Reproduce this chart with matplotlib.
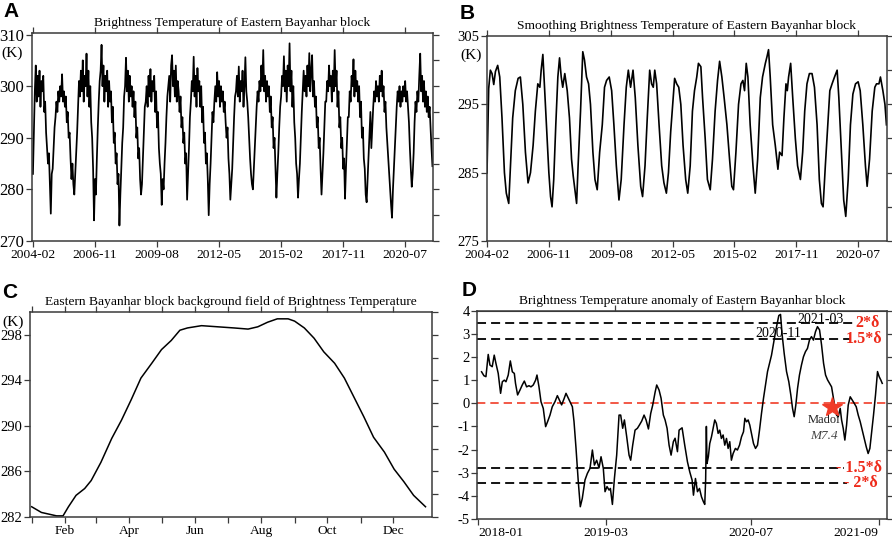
import numpy as np
import matplotlib.pyplot as plt
from matplotlib.ticker import MultipleLocator

plt.rcParams['font.family'] = ['Liberation Serif', 'DejaVu Serif']
plt.rcParams['axes.unicode_minus'] = False

# ---------------- data ----------------
# A: raw brightness temperature, half-month samples from 2004-02 (one row per year)
a_rows = [
    [283, 291, 299, 304, 297, 302, 298, 303, 296, 301, 299, 302, 295, 297, 291, 288, 285, 287, 281, 275.3, 283, 284, 288, 292],
    [294, 297, 295, 299, 297, 300, 298, 302.3, 297, 299, 296, 298, 293, 295, 290, 291, 286, 282, 285, 281, 279, 283, 287, 291],
    [296, 301, 298, 303, 299, 305, 297, 302, 300, 306.3, 298, 303, 296, 300, 293, 290, 284, 274, 282, 279, 286, 292, 297, 301],
    [303, 308, 300, 304, 297, 302, 299, 303, 296, 301, 297, 299, 293, 296, 289, 291, 285, 287, 281, 283, 273, 279, 284, 289],
    [292, 298, 300, 305.5, 299, 303, 297, 302, 298, 300, 296, 299, 294, 297, 290, 292, 286, 288, 282, 279, 281, 286, 291, 296],
    [297, 300, 296, 302, 298, 303.3, 297, 301, 299, 302, 295, 299, 292, 295, 288, 285, 283, 277, 282, 280, 285, 289, 294, 298],
    [300, 302, 297, 304, 306, 300, 303, 298, 304, 297, 301, 299, 295, 298, 292, 294, 289, 291, 285, 287, 278, 283, 288, 294],
    [297, 301, 299, 305.7, 298, 302, 296, 303.5, 299, 301, 296, 300, 293, 296, 289, 291, 285, 287, 282, 275, 281, 285, 290, 295],
    [293, 297, 300, 297, 302.7, 298, 301, 296, 300, 297, 299, 295, 297, 293, 290, 292, 286, 283, 278, 281, 284, 289, 294, 298],
    [299, 302, 298, 303.8, 297, 301, 299, 303, 296, 300, 305.6, 299, 297, 294, 290, 286, 283, 281, 280, 284, 288, 292, 296, 299],
    [297, 301, 299, 304, 300, 307, 299, 302, 297, 301, 298, 300, 295, 298, 292, 294, 288, 290, 284, 278.4, 283, 287, 292, 296],
    [298, 302, 300, 305.8, 299, 303, 297, 304, 300, 308.3, 299, 303, 296, 300, 293, 290, 285, 283, 278.4, 282, 285, 290, 295, 299],
    [303, 299, 302, 298, 304, 300, 306.4, 299, 303, 306, 298, 301, 296, 298, 292, 294, 288, 290, 284, 279, 283, 287, 292, 297],
    [297, 301, 299, 304, 300, 302, 297, 303, 299, 307, 300, 303, 296, 299, 292, 294, 288, 290, 284, 286, 278.2, 284, 289, 294],
    [294, 299, 297, 302, 300, 305.2, 298, 303, 299, 301, 297, 300, 294, 297, 290, 292, 286, 284, 279, 277.5, 282, 287, 291, 295],
    [288, 292, 296, 299, 297, 301, 298, 300, 297, 302, 299, 303, 298, 300, 295, 297, 292, 289, 286, 283, 280, 277, 274.5, 280],
    [284, 288, 292, 296, 299, 297, 300, 296, 299, 297, 300, 298, 301, 297, 299, 296, 293, 288, 284, 280.5, 283, 287, 293, 297],
    [295, 299, 297, 302, 306.3, 299, 302, 297, 301, 296, 299, 295, 298, 294, 296, 292, 288, 284.5],
]
a_val = np.concatenate([np.array(r, float) for r in a_rows])
a_month = np.arange(len(a_val)) * 0.5

# B: smoothed series, (month since 2004-02, K)
b_month = [0.0, 0.9, 1.8, 2.7, 3.6, 4.5, 5.7, 6.8, 8.0, 9.3, 10.3, 11.6, 12.5, 13.7, 15.1, 16.6, 17.8,
           19.1, 20.5, 21.9, 23.2, 24.6, 25.8, 27.1, 28.2, 28.9, 29.8, 30.6, 31.7, 33.0, 33.9, 34.7,
           35.6, 36.7, 37.8, 38.7, 39.6, 40.4, 41.5, 42.8, 44.0, 45.1, 46.0, 46.9, 47.8, 48.6, 49.9,
           51.1, 52.0, 53.1, 54.2, 55.2, 56.5, 57.6, 58.8, 60.1, 61.5, 62.7, 63.8, 65.2, 66.5, 67.7,
           69.0, 70.4, 71.6, 73.1, 74.3, 75.4, 76.6, 77.9, 79.1, 80.5, 82.0, 83.0, 84.3, 85.5, 86.8,
           87.8, 88.7, 89.5, 90.5, 91.8, 93.2, 94.4, 95.7, 96.8, 98.0, 99.1, 100.1, 101.2, 102.3,
           103.4, 104.6, 106.0, 107.1, 108.4, 109.6, 110.7, 111.9, 112.8, 114.1, 115.0, 116.4,
           117.6, 119.1, 120.3, 121.7, 123.0, 124.1, 125.3, 126.5, 128.0, 129.4, 130.6, 131.5,
           132.8, 134.2, 135.5, 136.5, 137.4, 138.3, 139.2, 140.4, 141.9, 143.1, 144.4, 145.8,
           147.0, 148.5, 149.4, 150.2, 151.1, 152.4, 153.8, 155.2, 156.1, 157.4, 158.4, 159.5,
           160.2, 160.9, 162.0, 163.1, 164.5, 165.7, 167.2, 168.4, 169.5, 170.7, 172.0, 173.4,
           174.7, 176.1, 177.3, 178.4, 179.3, 180.5, 182.0, 182.9, 184.1, 185.4, 186.8, 187.7,
           189.1, 190.3, 191.4, 192.7, 193.9, 195.2, 196.6, 198.0, 199.1, 200.5, 201.9, 202.8,
           204.1, 205.5, 206.9, 207.8, 209.1, 209.9, 211.2, 212.3, 213.1]
b_val = [285, 297.3, 300, 299.5, 297.9, 299.8, 300.7, 299, 293, 285, 282, 280.5, 286, 293, 297, 298.8, 299,
         295, 288, 283.5, 285, 289, 294, 298, 297.5, 300, 302.3, 298, 292, 285, 281.5, 280,
         284, 292, 299, 301.8, 299, 297.5, 299.5, 297, 293, 287, 284.5, 282.5, 280.5, 286, 294,
         302.7, 301.5, 299, 298, 295, 288, 284, 282.5, 288, 292, 297.5, 298.5, 299, 297, 292,
         286, 281, 284, 292, 297.5, 300, 297.5, 300, 296, 289, 283, 281.5, 286, 293, 300,
         298, 297.5, 300, 298, 292, 286, 283.5, 282, 285, 291, 295, 298.8, 298, 297.5,
         295, 289, 284, 282, 286, 294, 297, 299, 301, 300.5, 296, 290,
         284, 282.5, 287, 294, 298.5, 301.3, 299, 296, 292, 287, 283, 282.5,
         288, 295, 298, 298.5, 297, 301, 299, 292, 286, 282, 287, 296,
         299, 301, 302, 303, 299, 292, 289, 285.5, 288, 287.5, 293, 298,
         297, 299, 301, 296, 290, 286, 284, 288, 294, 298, 299.5, 299.5,
         297.5, 292, 284, 280.5, 280, 286, 293, 297, 298, 299, 300, 296,
         288, 281, 278.6, 284, 292, 296.5, 298, 298.3, 297, 292, 286, 283,
         287, 294, 297.5, 298, 298, 299, 297, 295, 292]

ab_tick_labels = ['2004-02', '2006-11', '2009-08', '2012-05', '2015-02', '2017-11', '2020-07']
ab_tick_month = [0, 33, 66, 99, 132, 165, 198]

# C: background field, (day of year, K)
c_day = [1, 10, 24, 30, 35, 42, 50, 56, 65, 75, 84, 93, 102, 112, 121, 130, 138, 145, 158, 173,
         188, 201, 210, 219, 228, 238, 244, 253, 262, 271, 281, 290, 299, 308, 317, 327, 336, 345, 354, 365]
c_val = [282.9, 282.4, 282.1, 282.1, 282.9, 283.9, 284.5, 285.2, 286.8, 288.9, 290.5, 292.3, 294.2, 295.5,
         296.7, 297.5, 298.4, 298.6, 298.8, 298.7, 298.6, 298.5, 298.7, 299.1, 299.4, 299.4, 299.2, 298.6,
         297.7, 296.5, 295.5, 294.2, 292.5, 290.8, 289.0, 287.7, 286.2, 285.1, 283.9, 282.9]
c_month_day = [1, 32, 60, 91, 121, 152, 182, 213, 244, 274, 305, 335]
c_month_labels = ['', 'Feb', '', 'Apr', '', 'Jun', '', 'Aug', '', 'Oct', '', 'Dec']

# D: anomaly, (month since 2018-01, value)
d_month = [0.37, 0.63, 0.85, 1.10, 1.29, 1.54, 1.76, 1.95, 2.2, 2.46, 2.65, 2.87, 3.05, 3.3, 3.53, 3.75,
           3.97, 4.1, 4.33, 4.59, 4.84, 5.07, 5.32, 5.58, 5.8, 6.05, 6.31, 6.46, 6.68, 6.9, 7.15, 7.41,
           7.63, 7.89, 8.14, 8.44, 8.7, 8.92, 9.17, 9.43, 9.65, 9.9, 10.16, 10.35, 10.53, 10.75, 11.0,
           11.22, 11.44, 11.74, 12.0, 12.29, 12.55, 12.77, 13.02, 13.28, 13.5, 13.75, 13.94, 14.16,
           14.38, 14.53, 14.75, 14.97, 15.22, 15.48, 15.66, 15.88, 16.07, 16.32, 16.58, 16.76, 16.98,
           17.24, 17.5, 17.72, 17.97, 18.23, 18.45, 18.71, 18.96, 19.18, 19.44, 19.62, 19.88, 20.1,
           20.35, 20.54, 20.76, 20.98, 21.2, 21.45, 21.64, 21.9, 22.08, 22.41, 22.7, 23.0, 23.25,
           23.51, 23.66, 23.88, 24.1, 24.32, 24.54, 24.76, 24.9, 25.0, 25.08, 25.15, 25.3, 25.45,
           25.64, 25.82, 26.0, 26.18, 26.37, 26.55, 26.73, 26.92, 27.1, 27.29, 27.47, 27.65, 27.83,
           28.02, 28.27, 28.49, 28.72, 28.94, 29.16, 29.31, 29.49, 29.67, 29.85, 30.04, 30.26, 30.48,
           30.7, 30.92, 31.14, 31.36, 31.58, 31.8, 32.02, 32.24, 32.46, 32.68, 32.86, 33.04, 33.23,
           33.41, 33.63, 33.89, 34.14, 34.36, 34.55, 34.73, 34.91, 35.1, 35.31, 35.53, 35.75, 35.97,
           36.19, 36.41, 36.63, 36.85, 37.07, 37.29, 37.52, 37.74, 37.96, 38.18, 38.4, 38.62, 38.84,
           39.02, 39.2, 39.39, 39.57, 39.79, 39.94, 40.12, 40.3, 40.49, 40.67, 40.89, 41.11, 41.33,
           41.55, 41.77, 41.99, 42.21, 42.43, 42.65, 42.86, 43.05, 43.23, 43.45, 43.67, 43.89, 44.07,
           44.26, 44.41]
d_val = [1.36, 1.19, 1.15, 2.11, 1.65, 1.58, 2.08, 1.72, 1.29, 0.43, 0.93, 1.0, 0.93, 1.22, 1.83, 1.36,
         1.29, 0.86, 0.36, 0.57, 0.79, 0.96, 0.71, 0.76, 0.71, 0.79, 1.0, 1.22, 0.71, 0.07, -0.22, -1.01,
         -0.79, -0.51, -0.15, 0.07, 0.33, 0.14, -0.07, 0.19, 0.43, 0.22, 0.0, -0.15, -0.79, -1.94, -3.39,
         -4.47, -4.11, -3.31, -3.03, -2.81, -2.02, -2.67, -2.46, -2.79, -2.31, -2.81, -3.82, -3.6,
         -3.75, -3.68, -4.37, -3.25, -2.24, -0.51, -0.51, -1.08, -0.72, -1.44, -2.24, -2.46, -1.81,
         -1.16, -1.08, -0.94, -0.77, -0.51, -0.72, -1.11, -0.44, -0.08, 0.47, 0.79, 0.57, 0.22,
         -0.51, -0.72, -1.08, -1.81, -2.24, -1.66, -1.51, -2.09, -1.16, -1.06, -1.81, -2.53, -2.96,
         -3.32, -3.97, -3.25, -3.82, -3.68, -4.04, -4.26, -4.37, -3.3, -1.0, -2.6, -2.3, -1.74,
         -1.45, -1.08, -0.72, -0.87, -1.30, -1.16, -1.52, -1.37, -1.81, -1.52, -1.95, -1.66, -2.46,
         -2.17, -1.95, -2.02, -1.81, -1.45, -1.23, -0.65, -0.80, -0.72, -0.94, -1.30, -1.74, -1.95,
         -1.81, -1.16, -0.43, 0.22, 0.79, 1.37, 1.73, 2.08, 2.59, 3.09, 3.45, 3.79, 3.84,
         2.95, 2.16, 1.37, 0.93, 0.36, -0.22, -0.58, -0.08, 0.64, 1.22, 1.65, 2.01, 2.23,
         2.37, 2.73, 2.88, 2.73, 3.09, 3.31, 3.17, 2.52, 1.73, 1.22, 1.01, 0.86, 0.71,
         0.28, -0.15, -0.51, -0.58, -0.22, -0.72, -1.08, -1.59, -0.94, -0.08, 0.28, 0.14, 0.0,
         -0.15, -0.51, -0.80, -1.16, -1.52, -1.88, -2.17, -1.95, -1.30, -0.51, 0.36, 1.37, 1.15,
         1.0, 0.86]
d_tick_month = [0, 14, 30, 44]
d_tick_labels = ['2018-01', '2019-03', '2020-07', '2021-09']
d_top_month = [15, 29]
d_sigma = [3.45, 2.78, -2.78, -3.45]
d_sigma_labels = ['2*δ', '1.5*δ', '- 1.5*δ', '- 2*δ']
quake_month, quake_val = 38.9, -0.18

# ---------------- figure ----------------
W, H = 892.0, 538.0
fig = plt.figure(figsize=(W / 100, H / 100), dpi=100)


def box(l, t, r, b):
    return [l / W, 1 - b / H, (r - l) / W, (b - t) / H]


def frame(ax, top=True, ysize=10.5):
    for s in ax.spines.values():
        s.set_linewidth(1.1)
        s.set_color('#3a3a3a')
    ax.tick_params(which='both', direction='out', length=4, width=0.9, color='#3a3a3a',
                   labelsize=9.7, pad=2, top=top, right=True, labeltop=False, labelright=False)
    ax.tick_params(axis='y', labelsize=ysize, pad=1.5)
    ax.tick_params(which='minor', left=False, bottom=False, top=False, right=True)


title_kw = dict(fontsize=9.7, pad=5)
letter_kw = dict(fontsize=15, fontweight='bold', family='Liberation Sans', ha='left', va='top')

# A
axA = fig.add_axes(box(32, 33, 433, 241))
axA.plot(a_month, a_val, color='black', lw=1.25)
axA.set_xlim(-0.5, 212.8)
axA.set_ylim(270, 310.3)
axA.set_xticks(ab_tick_month, ab_tick_labels)
axA.yaxis.set_major_locator(MultipleLocator(10))
axA.yaxis.set_minor_locator(MultipleLocator(5))
frame(axA, ysize=12)
axA.set_title('Brightness Temperature of Eastern Bayanhar block', **title_kw)
axA.text(-0.05, 0.905, '(K)', transform=axA.transAxes, ha='center', va='center', fontsize=11)
fig.text(3 / W, 1 - 2 / H, 'A', **letter_kw)

# B
axB = fig.add_axes(box(487, 36, 887, 241))
axB.plot(b_month, b_val, color='black', lw=1.2)
axB.set_xlim(0, 213.4)
axB.set_ylim(275, 305)
axB.set_xticks(ab_tick_month, ab_tick_labels)
axB.yaxis.set_minor_locator(MultipleLocator(5))
axB.set_yticks([275, 285, 295, 305])
frame(axB)
axB.set_title('Smoothing Brightness Temperature of Eastern Bayanhar block', **title_kw)
axB.text(-0.04, 0.905, '(K)', transform=axB.transAxes, ha='center', va='center', fontsize=11)
fig.text(460 / W, 1 - 4 / H, 'B', **letter_kw)

# C
axC = fig.add_axes(box(29.5, 312, 432, 517))
axC.plot(c_day, c_val, color='black', lw=1.1)
axC.set_xlim(-1, 371)
axC.set_ylim(282, 300)
axC.set_xticks(c_month_day, c_month_labels)
axC.set_yticks([282, 286, 290, 294, 298])
axC.yaxis.set_minor_locator(MultipleLocator(2))
frame(axC)
axC.set_title('Eastern Bayanhar block background field of Brightness Temperature', **title_kw)
axC.text(-0.04, 0.95, '(K)', transform=axC.transAxes, ha='center', va='center', fontsize=11)
fig.text(2 / W, 1 - 283 / H, 'C', **letter_kw)

# D
axD = fig.add_axes(box(477.3, 310.7, 886.7, 519))
axD.plot(d_month, d_val, color='black', lw=1.1, zorder=3)
axD.set_xlim(-0.1, 44.9)
axD.set_ylim(-5, 4)
axD.set_xticks(d_tick_month, d_tick_labels)
tl = axD.get_xticklabels()
tl[0].set_ha('left')
tl[-1].set_ha('right')
axD.yaxis.set_major_locator(MultipleLocator(1))
frame(axD, top=False)
sec = axD.secondary_xaxis('top')
sec.set_xticks(d_top_month, ['', ''])
sec.tick_params(direction='out', length=4, width=0.9, color='#3a3a3a')
sec.spines['top'].set_color('#3a3a3a')
axD.axhline(0, color='#f03c28', lw=1.2, dashes=(5, 3), zorder=2)
line_end = [0.923, 0.911, 0.895, 0.902]
label_x = [0.983, 0.989, 0.989, 0.979]
for v, lab, xe, xl in zip(d_sigma, d_sigma_labels, line_end, label_x):
    axD.axhline(v, xmax=xe, color='black', lw=1.3, dashes=(5, 2.8), zorder=2)
    axD.text(xl, v, lab, transform=axD.get_yaxis_transform(), ha='right', va='center',
             color='#ee2a1a', fontsize=11.5, fontweight='bold')
axD.plot(quake_month, quake_val, marker='*', color='#f03c28', ms=15, mec='#f03c28', zorder=5)
axD.text(37.66, 3.64, '2021-03', ha='center', va='center', fontsize=10, zorder=4)
axD.text(33.0, 3.0, '2020-11', ha='center', va='center', fontsize=10, zorder=4)
axD.text(38.0, -0.73, 'Madoi', ha='center', va='center', fontsize=9, color='#222222', zorder=1)
axD.text(38.0, -1.40, 'M7.4', ha='center', va='center', fontsize=9.5, style='italic',
         color='#444444', zorder=1)
axD.set_title('Brightness Temperature anomaly of Eastern Bayanhar block', **title_kw)
fig.text(462 / W, 1 - 281 / H, 'D', **letter_kw)

fig.savefig('out.png', dpi=100)
